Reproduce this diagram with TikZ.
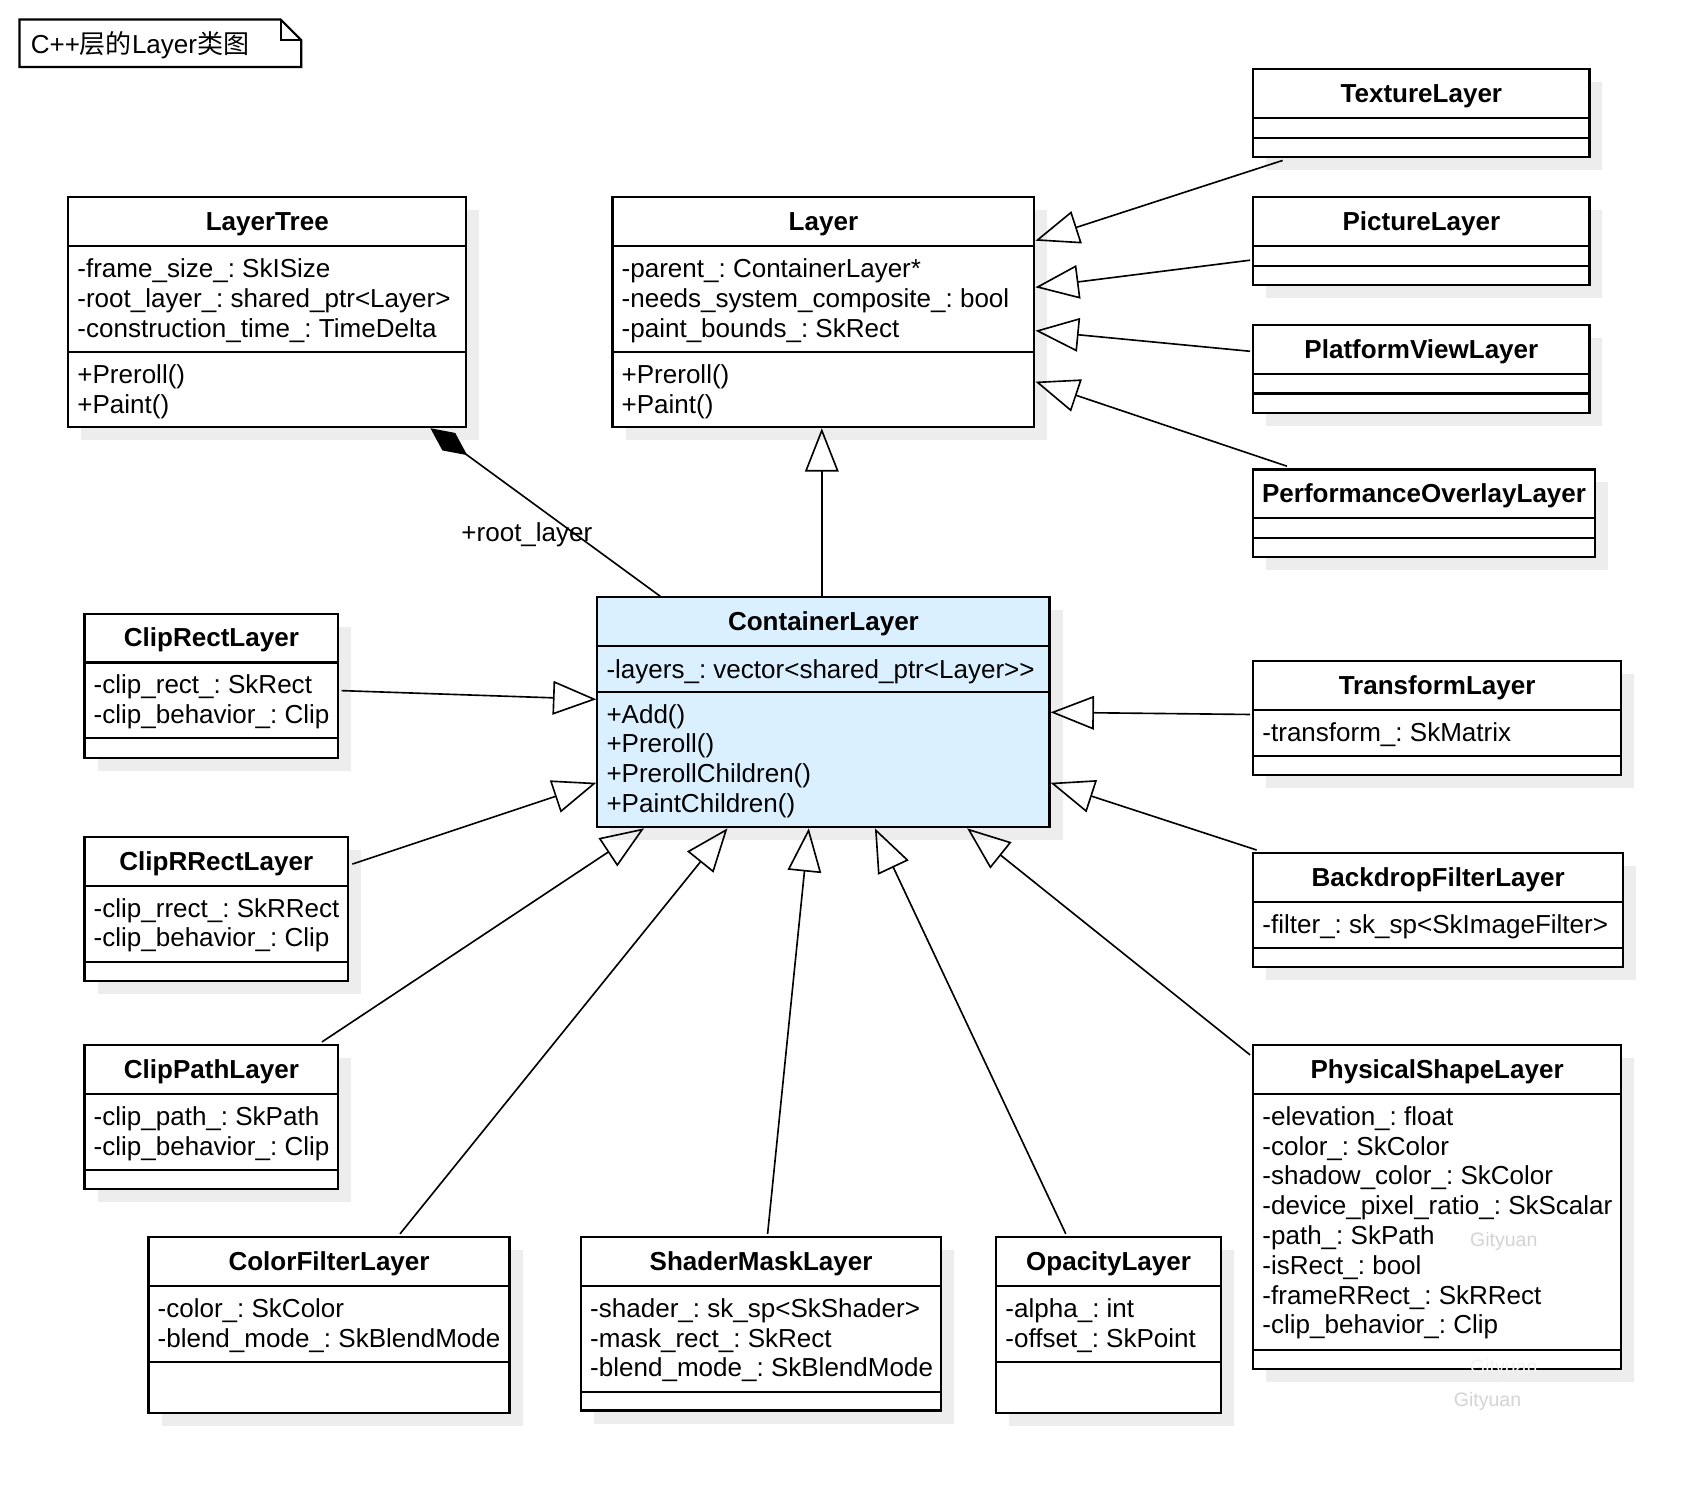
\documentclass[tikz,border=0pt]{standalone}
\usepackage{fontspec}
\setmainfont{Liberation Sans}
\newfontfamily\cjk{Noto Sans CJK SC}
\usetikzlibrary{arrows.meta,calc,shadows}
\definecolor{cfill}{HTML}{DAF0FF}
\definecolor{shad}{HTML}{EDEDED}
\definecolor{wmc}{HTML}{D4D4D4}
\definecolor{wmw}{HTML}{F2F2F2}
\tikzset{
  cls/.style={draw, line width=1pt, fill=white, inner sep=0pt, anchor=north west,
     drop shadow={shadow xshift=6pt, shadow yshift=-6pt, fill=shad, opacity=1}},
  sepl/.style={line width=1pt},
  ttl/.style={font=\bfseries, inner sep=0pt, anchor=base},
  txt/.style={align=left, inner sep=0pt, anchor=north west},
  conn/.style={line width=0.75pt},
  inh/.style={conn, -{Triangle[open, length=20pt, width=15.5pt]}},
  comp/.style={conn, -{Diamond[length=21pt, width=10pt]}},
  wmk/.style={font=\fontsize{9pt}{11pt}\selectfont, inner sep=0pt},
}
\newcommand\clsnode[6]{\node[cls, fill=#6, minimum width=#4*0.5pt, minimum height=#5*0.5pt] (#1) at (#2,#3) {};}
\newcommand\cltitle[2]{\node[ttl] (#1-t) at ($(#1.north)+(0,31.5)$) {#2};}
\newcommand\clsep[2]{\draw[sepl] ($(#1.north west)+(0,#2)$) -- ($(#1.north east)+(0,#2)$);}
\newcommand\cltext[4]{\node[txt] (#1-#2) at ($(#1.north west)+(9,#3-17.75)$) {#4};}
\begin{document}
\frenchspacing
\fontsize{12pt}{13.75pt}\selectfont
\begin{tikzpicture}[x=0.5pt, y=-0.5pt]
\fill[white] (0,0) rectangle (1568,1391);
\useasboundingbox (0,0) rectangle (1568,1391);

% note
\node[inner sep=0pt, minimum width=259*0.5pt, minimum height=43*0.5pt, anchor=north west] (note) at (18,18) {};
\draw[line width=1pt] (note.north west) -- ($(note.north east)+(-19,0)$) -- ($(note.north east)+(0,19)$) -- (note.south east) -- (note.south west) -- cycle;
\draw[line width=1pt] ($(note.north east)+(-19,0)$) -- ($(note.north east)+(-19,19)$) -- ($(note.north east)+(0,19)$);
\node[anchor=base west, inner sep=0pt] (notetext) at ($(note.north west)+(10,31.5)$) {C++{\cjk 层的}Layer{\cjk 类图}};

% LayerTree
\clsnode{lt}{62}{181}{367}{212}{white}
\cltitle{lt}{LayerTree}
\clsep{lt}{46}\clsep{lt}{144}
\cltext{lt}{a}{73}{\strut -frame\_size\_: SkISize\\\strut -root\_layer\_: shared\_ptr<Layer>\\\strut -construction\_time\_: TimeDelta}
\cltext{lt}{m}{171}{\strut +Preroll()\\\strut +Paint()}

% Layer
\clsnode{ly}{564}{181}{389}{212}{white}
\cltitle{ly}{Layer}
\clsep{ly}{46}\clsep{ly}{144}
\cltext{ly}{a}{73}{\strut -parent\_: ContainerLayer*\\\strut -needs\_system\_composite\_: bool\\\strut -paint\_bounds\_: SkRect}
\cltext{ly}{m}{171}{\strut +Preroll()\\\strut +Paint()}

% ContainerLayer
\clsnode{ct}{550}{550}{417}{212}{cfill}
\cltitle{ct}{ContainerLayer}
\clsep{ct}{46}\clsep{ct}{88}
\cltext{ct}{a}{74}{\strut -layers\_: vector<shared\_ptr<Layer>{}>}
\cltext{ct}{m}{115}{\strut +Add()\\\strut +Preroll()\\\strut +PrerollChildren()\\\strut +PaintChildren()}

% right top leaves
\clsnode{tex}{1155}{63}{310}{81}{white}
\cltitle{tex}{TextureLayer}
\clsep{tex}{46}\clsep{tex}{64}

\clsnode{pic}{1155}{181}{310}{81}{white}
\cltitle{pic}{PictureLayer}
\clsep{pic}{46}\clsep{pic}{64}

\clsnode{pvl}{1155}{299}{310}{81}{white}
\cltitle{pvl}{PlatformViewLayer}
\clsep{pvl}{46}\clsep{pvl}{64}

\clsnode{pol}{1155}{432}{315}{81}{white}
\cltitle{pol}{PerformanceOverlayLayer}
\clsep{pol}{46}\clsep{pol}{64}

% right side
\clsnode{trl}{1155}{609}{339}{105}{white}
\cltitle{trl}{TransformLayer}
\clsep{trl}{46}\clsep{trl}{88}
\cltext{trl}{a}{73}{\strut -transform\_: SkMatrix}

\clsnode{bfl}{1155}{786}{341}{105}{white}
\cltitle{bfl}{BackdropFilterLayer}
\clsep{bfl}{46}\clsep{bfl}{88}
\cltext{bfl}{a}{73}{\strut -filter\_: sk\_sp<SkImageFilter>}

\clsnode{psl}{1155}{963}{339}{299}{white}
\cltitle{psl}{PhysicalShapeLayer}
\clsep{psl}{46}\clsep{psl}{282}
\cltext{psl}{a}{73}{\strut -elevation\_: float\\\strut -color\_: SkColor\\\strut -shadow\_color\_: SkColor\\\strut -device\_pixel\_ratio\_: SkScalar\\\strut -path\_: SkPath\\\strut -isRect\_: bool\\\strut -frameRRect\_: SkRRect\\\strut -clip\_behavior\_: Clip}

% left side
\clsnode{crl}{77}{565}{234}{133}{white}
\cltitle{crl}{ClipRectLayer}
\clsep{crl}{46}\clsep{crl}{116}
\cltext{crl}{a}{73}{\strut -clip\_rect\_: SkRect\\\strut -clip\_behavior\_: Clip}

\clsnode{crr}{77}{771}{243}{133}{white}
\cltitle{crr}{ClipRRectLayer}
\clsep{crr}{46}\clsep{crr}{116}
\cltext{crr}{a}{73}{\strut -clip\_rrect\_: SkRRect\\\strut -clip\_behavior\_: Clip}

\clsnode{cpl}{77}{963}{234}{133}{white}
\cltitle{cpl}{ClipPathLayer}
\clsep{cpl}{46}\clsep{cpl}{116}
\cltext{cpl}{a}{73}{\strut -clip\_path\_: SkPath\\\strut -clip\_behavior\_: Clip}

% bottom
\clsnode{cfl}{136}{1140}{333}{162}{white}
\cltitle{cfl}{ColorFilterLayer}
\clsep{cfl}{46}\clsep{cfl}{116}
\cltext{cfl}{a}{73}{\strut -color\_: SkColor\\\strut -blend\_mode\_: SkBlendMode}

\clsnode{sml}{535}{1140}{332}{160}{white}
\cltitle{sml}{ShaderMaskLayer}
\clsep{sml}{46}\clsep{sml}{144}
\cltext{sml}{a}{73}{\strut -shader\_: sk\_sp<SkShader>\\\strut -mask\_rect\_: SkRect\\\strut -blend\_mode\_: SkBlendMode}

\clsnode{opl}{918}{1140}{207}{162}{white}
\cltitle{opl}{OpacityLayer}
\clsep{opl}{46}\clsep{opl}{116}
\cltext{opl}{a}{73}{\strut -alpha\_: int\\\strut -offset\_: SkPoint}

% connectors
\draw[comp] ($(ct.north west)+(59,0)$) -- ($(lt.south west)+(335,0)$);
\node[inner sep=0pt] (rl) at (486,493) {+root\_layer};

\draw[inh] ($(ct.north west)+(208,0)$) -- ($(ly.south west)+(194,0)$);
\draw[inh] ($(tex.south west)+(28,2)$) -- ($(ly.north east)+(0,41)$);
\draw[inh] ($(pic.north west)+(-2,59)$) -- ($(ly.north east)+(0,84)$);
\draw[inh] ($(pvl.north west)+(-2,25)$) -- ($(ly.north east)+(0,124)$);
\draw[inh] ($(pol.north west)+(32,-2)$) -- ($(ly.north east)+(0,171)$);

\draw[inh] ($(crl.north east)+(2,72)$) -- ($(ct.north west)+(0,95)$);
\draw[inh] ($(crr.north east)+(3,26)$) -- ($(ct.north west)+(0,172)$);
\draw[inh] ($(cpl.north west)+(220,-2)$) -- ($(ct.south west)+(44,0)$);
\draw[inh] ($(cfl.north west)+(233,-2)$) -- ($(ct.south west)+(121,0)$);
\draw[inh] ($(sml.north west)+(173,-2)$) -- ($(ct.south west)+(196,0)$);
\draw[inh] ($(opl.north west)+(65,-2)$) -- ($(ct.south west)+(257,0)$);
\draw[inh] ($(psl.north west)+(-2,10)$) -- ($(ct.south west)+(342,0)$);
\draw[inh] ($(bfl.north west)+(4,-2)$) -- ($(ct.north east)+(0,172)$);
\draw[inh] ($(trl.north west)+(-2,50)$) -- ($(ct.north east)+(0,107)$);

% watermarks
\node[wmk, text=wmc] (wm1) at (1387,1145) {Gityuan};
\node[wmk, text=wmw] (wm2) at (1387,1262) {Gityuan};
\node[wmk, text=wmc] (wm3) at (1372,1293) {Gityuan};
\end{tikzpicture}
\end{document}
